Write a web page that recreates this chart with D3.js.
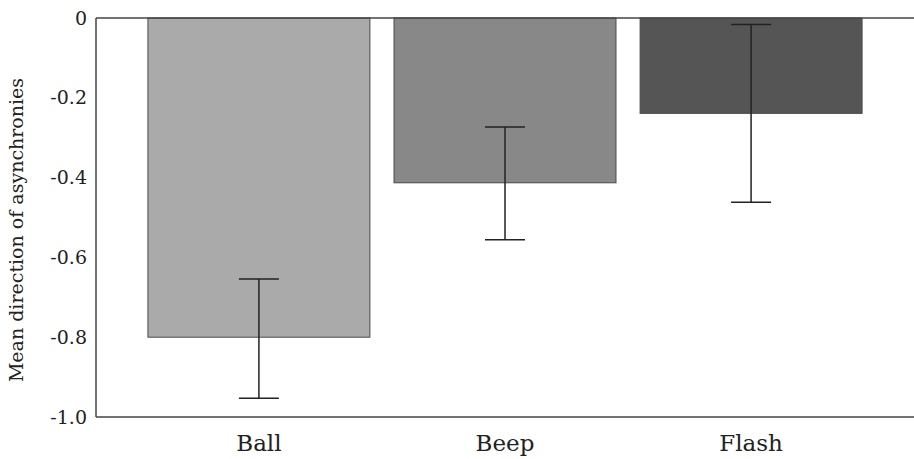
<!DOCTYPE html>
<html>
<head>
<meta charset="utf-8">
<script src="https://cdn.jsdelivr.net/npm/d3@7"></script>
<style>
  body { margin: 0; background: #fff; }
  text { font-family: "DejaVu Serif", "Liberation Serif", serif; fill: #222; }
</style>
</head>
<body>
<svg id="chart" width="914" height="459"></svg>
<script>
// chart data
var categories = ['Ball', 'Beep', 'Flash'];
var means = [-0.80, -0.413, -0.239];
var errLow = [-0.953, -0.556, -0.462];
var errHigh = [-0.654, -0.273, -0.016];
var barColors = ['#aaaaaa', '#888888', '#555555'];
var tickValues = [0, -0.2, -0.4, -0.6, -0.8, -1.0];

var svg = d3.select('#chart'),
    plotLeft = 96, plotRight = 914, plotTop = 18, plotBottom = 417;

var x = d3.scaleBand()
    .domain(categories)
    .range([plotLeft, plotRight])
    .paddingInner(0.098)
    .paddingOuter(0.211);

var y = d3.scaleLinear()
    .domain([0, -1.0])
    .range([plotTop, plotBottom]);

// bars
svg.append('g')
    .selectAll('rect')
    .data(categories)
    .join('rect')
    .attr('x', d => x(d))
    .attr('y', y(0))
    .attr('width', x.bandwidth())
    .attr('height', (d, i) => y(means[i]) - y(0))
    .attr('fill', (d, i) => barColors[i])
    .attr('stroke', '#4a4a4a')
    .attr('stroke-width', 1);

// error bars
var capW = 40;
var eb = svg.append('g')
    .attr('stroke', '#222')
    .attr('stroke-width', 1.5);
categories.forEach(function (c, i) {
    var cx = x(c) + x.bandwidth() / 2;
    eb.append('line')
        .attr('x1', cx).attr('x2', cx)
        .attr('y1', y(errHigh[i])).attr('y2', y(errLow[i]));
    eb.append('line')
        .attr('x1', cx - capW / 2).attr('x2', cx + capW / 2)
        .attr('y1', y(errHigh[i])).attr('y2', y(errHigh[i]));
    eb.append('line')
        .attr('x1', cx - capW / 2).attr('x2', cx + capW / 2)
        .attr('y1', y(errLow[i])).attr('y2', y(errLow[i]));
});

// axis frame lines
var frame = svg.append('g')
    .attr('stroke', '#444')
    .attr('stroke-width', 1.5);
frame.append('line').attr('x1', plotLeft).attr('x2', plotRight).attr('y1', y(0)).attr('y2', y(0));
frame.append('line').attr('x1', plotLeft).attr('x2', plotRight).attr('y1', plotBottom).attr('y2', plotBottom);
frame.append('line').attr('x1', plotLeft).attr('x2', plotLeft).attr('y1', y(0)).attr('y2', plotBottom);

// y tick labels
var yAxis = svg.append('g')
    .attr('transform', 'translate(' + plotLeft + ',0)')
    .call(d3.axisLeft(y)
        .tickValues(tickValues)
        .tickSize(0)
        .tickPadding(9)
        .tickFormat(d => d === 0 ? '0' : d3.format('.1f')(d).replace('−', '-')));
yAxis.select('.domain').remove();
yAxis.selectAll('text')
    .attr('font-size', 19)
    .attr('font-family', '"DejaVu Serif", serif')
    .attr('fill', '#222');

// category labels
var xAxis = svg.append('g')
    .attr('transform', 'translate(0,' + plotBottom + ')')
    .call(d3.axisBottom(x).tickSize(0));
xAxis.select('.domain').remove();
xAxis.selectAll('text')
    .attr('y', 34)
    .attr('dy', 0)
    .attr('font-size', 23)
    .attr('font-family', '"DejaVu Serif", serif')
    .attr('fill', '#222');

// y axis title
svg.append('text')
    .attr('transform', 'translate(23,230) rotate(-90)')
    .attr('text-anchor', 'middle')
    .attr('font-size', 19)
    .text('Mean direction of asynchronies');
</script>
</body>
</html>
